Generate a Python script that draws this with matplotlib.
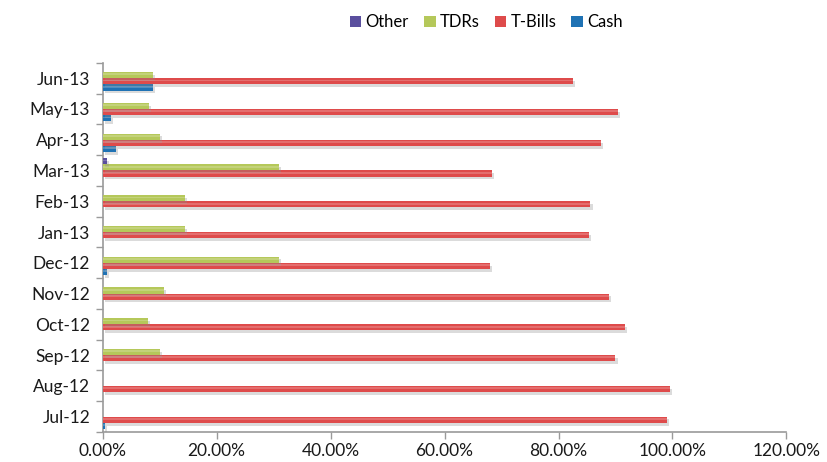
import matplotlib
matplotlib.use("Agg")
import matplotlib.pyplot as plt
import matplotlib.patheffects as pe
from matplotlib.patches import Patch
from matplotlib.ticker import FuncFormatter, FixedLocator
import numpy as np

plt.rcParams['font.family'] = ['Lato', 'DejaVu Sans']

# Monthly portfolio composition (% of total)
months = ["Jul-12", "Aug-12", "Sep-12", "Oct-12", "Nov-12", "Dec-12",
          "Jan-13", "Feb-13", "Mar-13", "Apr-13", "May-13", "Jun-13"]
cash = [0.5, 0.0, 0.0, 0.0, 0.0, 0.8, 0.0, 0.0, 0.0, 2.4, 1.5, 8.8]
tbills = [99.1, 99.6, 90.0, 91.6, 88.8, 68.0, 85.3, 85.6, 68.4, 87.5, 90.4, 82.5]
tdrs = [0.0, 0.0, 10.0, 7.9, 10.7, 31.0, 14.4, 14.4, 31.0, 10.0, 8.2, 8.8]
other = [0.0, 0.0, 0.0, 0.0, 0.0, 0.0, 0.0, 0.0, 0.7, 0.0, 0.0, 0.0]

series = [("Cash", cash, "#1f72b4"),
          ("T-Bills", tbills, "#de4b4b"),
          ("TDRs", tdrs, "#b5c85a"),
          ("Other", other, "#5a4f9e")]

fig = plt.figure(figsize=(8.27, 4.62), dpi=100)
fig.patch.set_facecolor("white")
ax = fig.add_axes([0.124, 0.065, 0.827, 0.799])

y = np.arange(len(months))
bar_h = 0.2
shadow = [pe.SimplePatchShadow(offset=(1.5, -2), alpha=0.3, shadow_rgbFace="#8a8a8a"),
          pe.Normal()]
for i, (name, vals, col) in enumerate(series):
    offs = (i - 1.5) * bar_h
    bars = ax.barh(y + offs, vals, height=bar_h, color=col,
                   edgecolor="none", zorder=3)
    for b in bars:
        b.set_path_effects(shadow)
    # lighter highlight band along each bar
    ax.barh(y + offs + bar_h * 0.12, vals, height=bar_h * 0.3, color="white",
            alpha=0.2, edgecolor="none", zorder=4)

ax.set_xlim(0, 120)
ax.set_ylim(-0.5, len(months) - 0.5)
ax.set_xticks(np.arange(0, 121, 20))
ax.xaxis.set_major_formatter(FuncFormatter(lambda v, p: f"{v:.2f}%"))
ax.set_yticks(y)
ax.set_yticklabels(months)
ax.yaxis.set_minor_locator(FixedLocator(np.arange(-0.5, len(months), 1.0)))

ax.tick_params(axis="y", which="major", length=0, pad=9, labelsize=12.5, colors="#1a1a1a")
ax.tick_params(axis="y", which="minor", length=5, color="#9a9a9a", width=1)
ax.tick_params(axis="x", which="major", length=5, color="#9a9a9a", width=1,
               labelsize=12.5, pad=3, labelcolor="#1a1a1a")

for s in ("top", "right"):
    ax.spines[s].set_visible(False)
for s in ("left", "bottom"):
    ax.spines[s].set_color("#9a9a9a")
    ax.spines[s].set_linewidth(1.2)

handles = [Patch(facecolor=c, label=n) for n, _, c in reversed(series)]
fig.legend(handles=handles, loc="center", bbox_to_anchor=(0.588, 0.952), ncol=4,
           frameon=False, fontsize=12, handlelength=0.7, handleheight=0.7,
           handletextpad=0.25, columnspacing=0.9)

fig.savefig("out.png", dpi=100, facecolor="white")
